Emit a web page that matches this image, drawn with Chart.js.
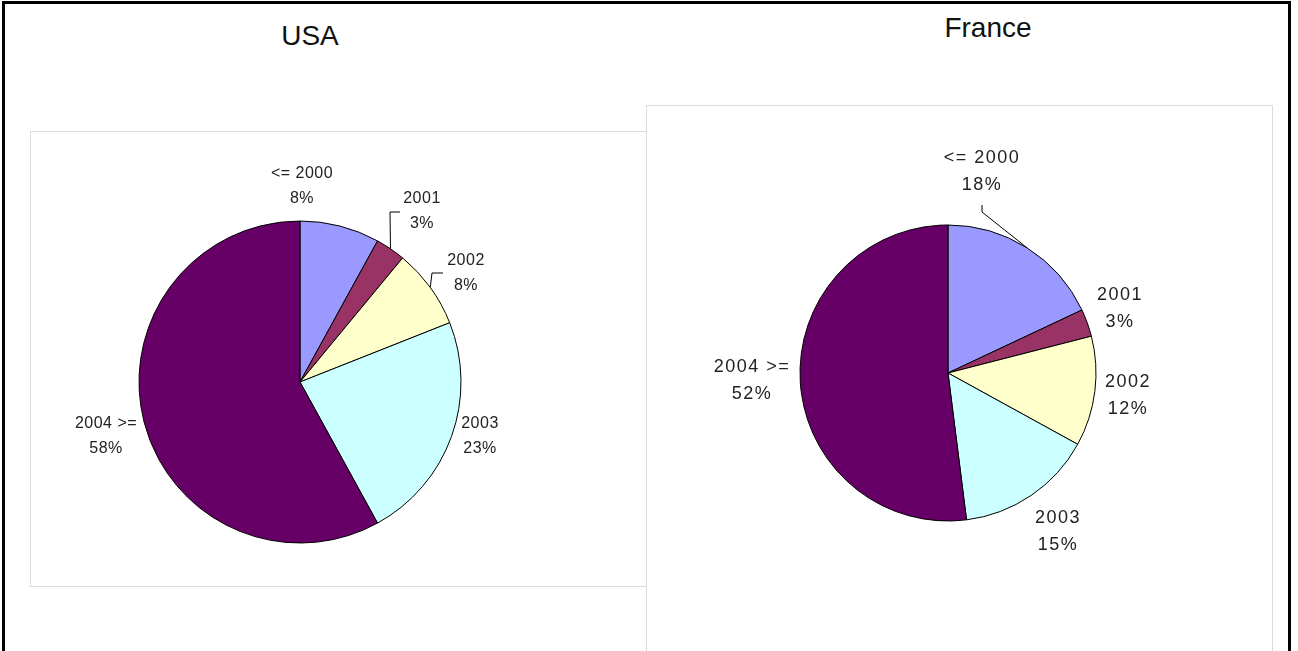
<!DOCTYPE html>
<html>
<head>
<meta charset="utf-8">
<script src="https://cdn.jsdelivr.net/npm/chart.js@4.4.1/dist/chart.umd.min.js"></script>
<style>
  html, body { margin: 0; padding: 0; background: #fff; overflow: hidden; }
  body { width: 1298px; height: 651px; position: relative; font-family: "Liberation Sans", Arial, sans-serif; }
  .frame { position: absolute; left: 2px; top: 1px; width: 1289px; height: 700px; border: 3px solid #000; box-sizing: border-box; }
  .panel { position: absolute; background: #fff; border: 1px solid #dcdcdc; box-sizing: border-box; }
  .title { position: absolute; font-size: 28px; color: #111; transform: translateX(-50%); white-space: nowrap; }
  canvas { position: absolute; }
</style>
</head>
<body>
<div class="frame"></div>
<div class="panel" style="left:30px; top:131px; width:617px; height:456px; border-right:none;"></div>
<div class="panel" style="left:646px; top:105px; width:627px; height:600px;"></div>
<div class="title" style="left:310px; top:20px;">USA</div>
<div class="title" style="left:988px; top:12px;">France</div>
<div style="position:absolute; left:30px; top:131px; width:616px; height:455px;"><canvas id="chart-usa"></canvas></div>
<div style="position:absolute; left:646px; top:105px; width:626px; height:546px;"><canvas id="chart-france"></canvas></div>

<script>
// ===== Data =====
const categories = ['<= 2000', '2001', '2002', '2003', '2004 >='];
const usaValues = [8, 3, 8, 23, 58];
const franceValues = [18, 3, 12, 15, 52];

// Excel classic palette
const sliceColors = ['#9999ff', '#993366', '#ffffcc', '#ccffff', '#660066'];

// label block centres relative to pie centre (layout only)
const usaLabelOffsets = [[2, -196], [122, -171], [166, -109], [180, 54], [-194, 54]];
const franceLabelOffsets = [[34, -201], [172, -64], [180, 23], [110, 159], [-196, 8]];

// leader lines: extra points after the slice edge, relative to pie centre
const usaLeaders = { 1: [[90, -170], [100, -170]], 2: [[132, -109], [143, -109]] };
const franceLeaders = { 0: [[34, -161], [34, -168]] };

const labelPlugin = {
  id: 'pieLabels',
  afterDraw(chart, args, opts) {
    const ctx = chart.ctx;
    const meta = chart.getDatasetMeta(0);
    const values = chart.data.datasets[0].data;
    ctx.save();
    meta.data.forEach((arc, i) => {
      const { x, y, startAngle, endAngle, outerRadius } = arc.getProps(['x', 'y', 'startAngle', 'endAngle', 'outerRadius'], true);
      const mid = (startAngle + endAngle) / 2;
      // leader line
      const pts = opts.leaders[i];
      if (pts) {
        ctx.beginPath();
        ctx.strokeStyle = '#000';
        ctx.lineWidth = 1;
        ctx.moveTo(x + Math.cos(mid) * outerRadius, y + Math.sin(mid) * outerRadius);
        pts.forEach(p => ctx.lineTo(x + p[0], y + p[1]));
        ctx.stroke();
      }
      // label text
      const [dx, dy] = opts.offsets[i];
      ctx.fillStyle = '#222';
      ctx.font = opts.font;
      ctx.letterSpacing = opts.spacing;
      ctx.textAlign = 'center';
      ctx.textBaseline = 'middle';
      const lh = opts.lineHeight;
      ctx.fillText(chart.data.labels[i], x + dx, y + dy - lh / 2);
      ctx.fillText(values[i] + '%', x + dx, y + dy + lh / 2);
    });
    ctx.restore();
  }
};

function makePie(id, values, radius, padding, labelOpts) {
  return new Chart(document.getElementById(id), {
    type: 'pie',
    data: {
      labels: categories,
      datasets: [{
        data: values,
        backgroundColor: sliceColors,
        borderColor: '#000',
        borderWidth: 1,
        hoverOffset: 0
      }]
    },
    options: {
      responsive: true,
      maintainAspectRatio: false,
      animation: false,
      radius: radius,
      layout: { padding },
      events: [],
      plugins: {
        legend: { display: false },
        tooltip: { enabled: false },
        pieLabels: labelOpts
      }
    },
    plugins: [labelPlugin]
  });
}

makePie('chart-usa', usaValues, 161,
  { left: 109, right: 185, top: 90, bottom: 43 },
  { offsets: usaLabelOffsets, leaders: usaLeaders, font: '16px "Liberation Sans", Arial, sans-serif', spacing: '0.5px', lineHeight: 25 });

makePie('chart-france', franceValues, 148,
  { left: 154, right: 176, top: 120, bottom: 130 },
  { offsets: franceLabelOffsets, leaders: franceLeaders, font: '18px "Liberation Sans", Arial, sans-serif', spacing: '1.5px', lineHeight: 27 });
</script>
</body>
</html>
